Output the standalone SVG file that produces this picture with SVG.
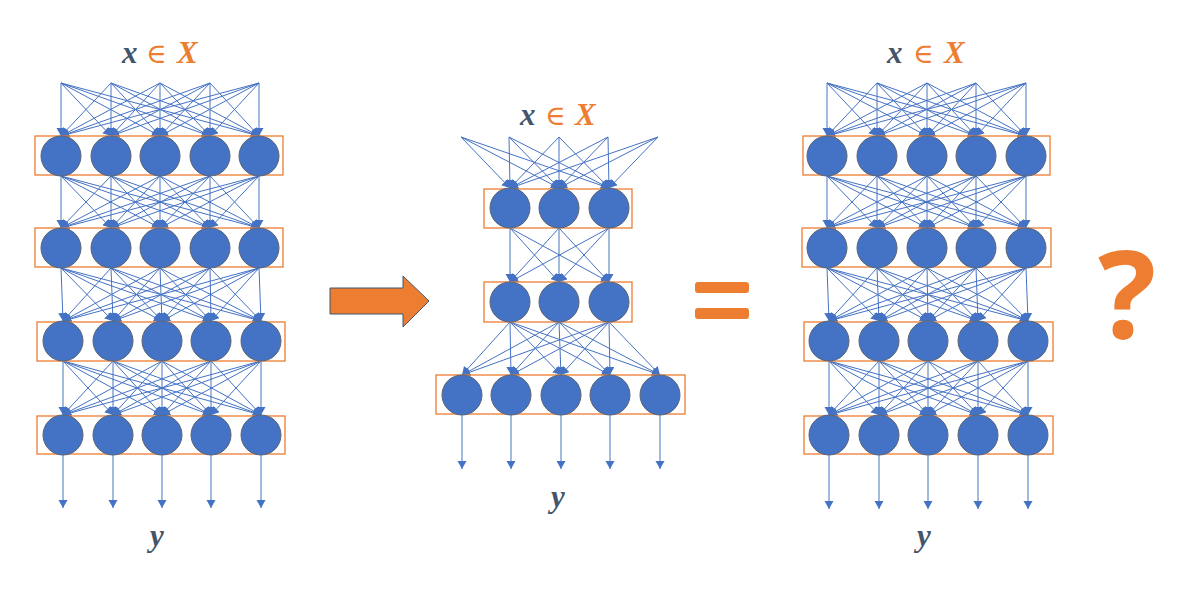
<svg xmlns="http://www.w3.org/2000/svg" width="1202" height="590" viewBox="0 0 1202 590">
<style>
.c{stroke:#4472C4;stroke-width:1;fill:none;marker-end:url(#ah)}
.n{fill:#4472C4;stroke:#5B6675;stroke-width:1}
.L{fill:none;stroke:#ED7D31;stroke-width:1.3}
.lx{font-family:"Liberation Serif","DejaVu Serif",serif;font-size:31px;font-weight:bold;font-style:italic;fill:#44546A}
.lo{fill:#ED7D31}
.le{font-weight:normal;font-style:normal;font-family:"DejaVu Serif","Liberation Serif",serif;font-size:28px}
</style>
<defs>
<marker id="ah" markerUnits="userSpaceOnUse" markerWidth="10" markerHeight="10" refX="8" refY="4.5" orient="auto"><path d="M0,0 L8,4.5 L0,9 z" fill="#4472C4"/></marker>
</defs>
<rect width="1202" height="590" fill="#ffffff"/>

<g id="connectors">
<!-- left: input to L1 -->
<line class="c" x1="61" y1="83" x2="61" y2="136"/><line class="c" x1="61" y1="83" x2="111" y2="136"/><line class="c" x1="61" y1="83" x2="160" y2="136"/><line class="c" x1="61" y1="83" x2="210" y2="136"/><line class="c" x1="61" y1="83" x2="259" y2="136"/>
<line class="c" x1="111" y1="83" x2="61" y2="136"/><line class="c" x1="111" y1="83" x2="111" y2="136"/><line class="c" x1="111" y1="83" x2="160" y2="136"/><line class="c" x1="111" y1="83" x2="210" y2="136"/><line class="c" x1="111" y1="83" x2="259" y2="136"/>
<line class="c" x1="160" y1="83" x2="61" y2="136"/><line class="c" x1="160" y1="83" x2="111" y2="136"/><line class="c" x1="160" y1="83" x2="160" y2="136"/><line class="c" x1="160" y1="83" x2="210" y2="136"/><line class="c" x1="160" y1="83" x2="259" y2="136"/>
<line class="c" x1="210" y1="83" x2="61" y2="136"/><line class="c" x1="210" y1="83" x2="111" y2="136"/><line class="c" x1="210" y1="83" x2="160" y2="136"/><line class="c" x1="210" y1="83" x2="210" y2="136"/><line class="c" x1="210" y1="83" x2="259" y2="136"/>
<line class="c" x1="259" y1="83" x2="61" y2="136"/><line class="c" x1="259" y1="83" x2="111" y2="136"/><line class="c" x1="259" y1="83" x2="160" y2="136"/><line class="c" x1="259" y1="83" x2="210" y2="136"/><line class="c" x1="259" y1="83" x2="259" y2="136"/>
<!-- left: L1 to L2 -->
<line class="c" x1="61" y1="176" x2="61" y2="228"/><line class="c" x1="61" y1="176" x2="111" y2="228"/><line class="c" x1="61" y1="176" x2="160" y2="228"/><line class="c" x1="61" y1="176" x2="210" y2="228"/><line class="c" x1="61" y1="176" x2="259" y2="228"/>
<line class="c" x1="111" y1="176" x2="61" y2="228"/><line class="c" x1="111" y1="176" x2="111" y2="228"/><line class="c" x1="111" y1="176" x2="160" y2="228"/><line class="c" x1="111" y1="176" x2="210" y2="228"/><line class="c" x1="111" y1="176" x2="259" y2="228"/>
<line class="c" x1="160" y1="176" x2="61" y2="228"/><line class="c" x1="160" y1="176" x2="111" y2="228"/><line class="c" x1="160" y1="176" x2="160" y2="228"/><line class="c" x1="160" y1="176" x2="210" y2="228"/><line class="c" x1="160" y1="176" x2="259" y2="228"/>
<line class="c" x1="210" y1="176" x2="61" y2="228"/><line class="c" x1="210" y1="176" x2="111" y2="228"/><line class="c" x1="210" y1="176" x2="160" y2="228"/><line class="c" x1="210" y1="176" x2="210" y2="228"/><line class="c" x1="210" y1="176" x2="259" y2="228"/>
<line class="c" x1="259" y1="176" x2="61" y2="228"/><line class="c" x1="259" y1="176" x2="111" y2="228"/><line class="c" x1="259" y1="176" x2="160" y2="228"/><line class="c" x1="259" y1="176" x2="210" y2="228"/><line class="c" x1="259" y1="176" x2="259" y2="228"/>
<!-- left: L2 to L3 -->
<line class="c" x1="61" y1="268" x2="63" y2="321"/><line class="c" x1="61" y1="268" x2="113" y2="321"/><line class="c" x1="61" y1="268" x2="162" y2="321"/><line class="c" x1="61" y1="268" x2="211" y2="321"/><line class="c" x1="61" y1="268" x2="261" y2="321"/>
<line class="c" x1="111" y1="268" x2="63" y2="321"/><line class="c" x1="111" y1="268" x2="113" y2="321"/><line class="c" x1="111" y1="268" x2="162" y2="321"/><line class="c" x1="111" y1="268" x2="211" y2="321"/><line class="c" x1="111" y1="268" x2="261" y2="321"/>
<line class="c" x1="160" y1="268" x2="63" y2="321"/><line class="c" x1="160" y1="268" x2="113" y2="321"/><line class="c" x1="160" y1="268" x2="162" y2="321"/><line class="c" x1="160" y1="268" x2="211" y2="321"/><line class="c" x1="160" y1="268" x2="261" y2="321"/>
<line class="c" x1="210" y1="268" x2="63" y2="321"/><line class="c" x1="210" y1="268" x2="113" y2="321"/><line class="c" x1="210" y1="268" x2="162" y2="321"/><line class="c" x1="210" y1="268" x2="211" y2="321"/><line class="c" x1="210" y1="268" x2="261" y2="321"/>
<line class="c" x1="259" y1="268" x2="63" y2="321"/><line class="c" x1="259" y1="268" x2="113" y2="321"/><line class="c" x1="259" y1="268" x2="162" y2="321"/><line class="c" x1="259" y1="268" x2="211" y2="321"/><line class="c" x1="259" y1="268" x2="261" y2="321"/>
<!-- left: L3 to L4 -->
<line class="c" x1="63" y1="361" x2="63" y2="415"/><line class="c" x1="63" y1="361" x2="113" y2="415"/><line class="c" x1="63" y1="361" x2="162" y2="415"/><line class="c" x1="63" y1="361" x2="211" y2="415"/><line class="c" x1="63" y1="361" x2="261" y2="415"/>
<line class="c" x1="113" y1="361" x2="63" y2="415"/><line class="c" x1="113" y1="361" x2="113" y2="415"/><line class="c" x1="113" y1="361" x2="162" y2="415"/><line class="c" x1="113" y1="361" x2="211" y2="415"/><line class="c" x1="113" y1="361" x2="261" y2="415"/>
<line class="c" x1="162" y1="361" x2="63" y2="415"/><line class="c" x1="162" y1="361" x2="113" y2="415"/><line class="c" x1="162" y1="361" x2="162" y2="415"/><line class="c" x1="162" y1="361" x2="211" y2="415"/><line class="c" x1="162" y1="361" x2="261" y2="415"/>
<line class="c" x1="211" y1="361" x2="63" y2="415"/><line class="c" x1="211" y1="361" x2="113" y2="415"/><line class="c" x1="211" y1="361" x2="162" y2="415"/><line class="c" x1="211" y1="361" x2="211" y2="415"/><line class="c" x1="211" y1="361" x2="261" y2="415"/>
<line class="c" x1="261" y1="361" x2="63" y2="415"/><line class="c" x1="261" y1="361" x2="113" y2="415"/><line class="c" x1="261" y1="361" x2="162" y2="415"/><line class="c" x1="261" y1="361" x2="211" y2="415"/><line class="c" x1="261" y1="361" x2="261" y2="415"/>
<!-- left outputs -->
<line class="c" x1="63" y1="455" x2="63" y2="508"/><line class="c" x1="113" y1="455" x2="113" y2="508"/><line class="c" x1="162" y1="455" x2="162" y2="508"/><line class="c" x1="211" y1="455" x2="211" y2="508"/><line class="c" x1="261" y1="455" x2="261" y2="508"/>

<!-- middle: input to L1 -->
<line class="c" x1="461" y1="137" x2="510" y2="188"/><line class="c" x1="461" y1="137" x2="559" y2="188"/><line class="c" x1="461" y1="137" x2="609" y2="188"/>
<line class="c" x1="509" y1="137" x2="510" y2="188"/><line class="c" x1="509" y1="137" x2="559" y2="188"/><line class="c" x1="509" y1="137" x2="609" y2="188"/>
<line class="c" x1="559" y1="137" x2="510" y2="188"/><line class="c" x1="559" y1="137" x2="559" y2="188"/><line class="c" x1="559" y1="137" x2="609" y2="188"/>
<line class="c" x1="608" y1="137" x2="510" y2="188"/><line class="c" x1="608" y1="137" x2="559" y2="188"/><line class="c" x1="608" y1="137" x2="609" y2="188"/>
<line class="c" x1="658" y1="137" x2="510" y2="188"/><line class="c" x1="658" y1="137" x2="559" y2="188"/><line class="c" x1="658" y1="137" x2="609" y2="188"/>
<!-- middle: L1 to L2 -->
<line class="c" x1="510" y1="228" x2="510" y2="282"/><line class="c" x1="510" y1="228" x2="559" y2="282"/><line class="c" x1="510" y1="228" x2="609" y2="282"/>
<line class="c" x1="559" y1="228" x2="510" y2="282"/><line class="c" x1="559" y1="228" x2="559" y2="282"/><line class="c" x1="559" y1="228" x2="609" y2="282"/>
<line class="c" x1="609" y1="228" x2="510" y2="282"/><line class="c" x1="609" y1="228" x2="559" y2="282"/><line class="c" x1="609" y1="228" x2="609" y2="282"/>
<!-- middle: L2 to L3 -->
<line class="c" x1="510" y1="322" x2="462" y2="375"/><line class="c" x1="510" y1="322" x2="511" y2="375"/><line class="c" x1="510" y1="322" x2="561" y2="375"/><line class="c" x1="510" y1="322" x2="610" y2="375"/><line class="c" x1="510" y1="322" x2="660" y2="375"/>
<line class="c" x1="559" y1="322" x2="462" y2="375"/><line class="c" x1="559" y1="322" x2="511" y2="375"/><line class="c" x1="559" y1="322" x2="561" y2="375"/><line class="c" x1="559" y1="322" x2="610" y2="375"/><line class="c" x1="559" y1="322" x2="660" y2="375"/>
<line class="c" x1="609" y1="322" x2="462" y2="375"/><line class="c" x1="609" y1="322" x2="511" y2="375"/><line class="c" x1="609" y1="322" x2="561" y2="375"/><line class="c" x1="609" y1="322" x2="610" y2="375"/><line class="c" x1="609" y1="322" x2="660" y2="375"/>
<!-- middle outputs -->
<line class="c" x1="462" y1="415" x2="462" y2="469"/><line class="c" x1="511" y1="415" x2="511" y2="469"/><line class="c" x1="561" y1="415" x2="561" y2="469"/><line class="c" x1="610" y1="415" x2="610" y2="469"/><line class="c" x1="660" y1="415" x2="660" y2="469"/>

<!-- right: input to L1 -->
<line class="c" x1="827" y1="83" x2="827" y2="136"/><line class="c" x1="827" y1="83" x2="877" y2="136"/><line class="c" x1="827" y1="83" x2="927" y2="136"/><line class="c" x1="827" y1="83" x2="976" y2="136"/><line class="c" x1="827" y1="83" x2="1026" y2="136"/>
<line class="c" x1="877" y1="83" x2="827" y2="136"/><line class="c" x1="877" y1="83" x2="877" y2="136"/><line class="c" x1="877" y1="83" x2="927" y2="136"/><line class="c" x1="877" y1="83" x2="976" y2="136"/><line class="c" x1="877" y1="83" x2="1026" y2="136"/>
<line class="c" x1="927" y1="83" x2="827" y2="136"/><line class="c" x1="927" y1="83" x2="877" y2="136"/><line class="c" x1="927" y1="83" x2="927" y2="136"/><line class="c" x1="927" y1="83" x2="976" y2="136"/><line class="c" x1="927" y1="83" x2="1026" y2="136"/>
<line class="c" x1="976" y1="83" x2="827" y2="136"/><line class="c" x1="976" y1="83" x2="877" y2="136"/><line class="c" x1="976" y1="83" x2="927" y2="136"/><line class="c" x1="976" y1="83" x2="976" y2="136"/><line class="c" x1="976" y1="83" x2="1026" y2="136"/>
<line class="c" x1="1026" y1="83" x2="827" y2="136"/><line class="c" x1="1026" y1="83" x2="877" y2="136"/><line class="c" x1="1026" y1="83" x2="927" y2="136"/><line class="c" x1="1026" y1="83" x2="976" y2="136"/><line class="c" x1="1026" y1="83" x2="1026" y2="136"/>
<!-- right: L1 to L2 -->
<line class="c" x1="827" y1="176" x2="827" y2="228"/><line class="c" x1="827" y1="176" x2="877" y2="228"/><line class="c" x1="827" y1="176" x2="927" y2="228"/><line class="c" x1="827" y1="176" x2="976" y2="228"/><line class="c" x1="827" y1="176" x2="1026" y2="228"/>
<line class="c" x1="877" y1="176" x2="827" y2="228"/><line class="c" x1="877" y1="176" x2="877" y2="228"/><line class="c" x1="877" y1="176" x2="927" y2="228"/><line class="c" x1="877" y1="176" x2="976" y2="228"/><line class="c" x1="877" y1="176" x2="1026" y2="228"/>
<line class="c" x1="927" y1="176" x2="827" y2="228"/><line class="c" x1="927" y1="176" x2="877" y2="228"/><line class="c" x1="927" y1="176" x2="927" y2="228"/><line class="c" x1="927" y1="176" x2="976" y2="228"/><line class="c" x1="927" y1="176" x2="1026" y2="228"/>
<line class="c" x1="976" y1="176" x2="827" y2="228"/><line class="c" x1="976" y1="176" x2="877" y2="228"/><line class="c" x1="976" y1="176" x2="927" y2="228"/><line class="c" x1="976" y1="176" x2="976" y2="228"/><line class="c" x1="976" y1="176" x2="1026" y2="228"/>
<line class="c" x1="1026" y1="176" x2="827" y2="228"/><line class="c" x1="1026" y1="176" x2="877" y2="228"/><line class="c" x1="1026" y1="176" x2="927" y2="228"/><line class="c" x1="1026" y1="176" x2="976" y2="228"/><line class="c" x1="1026" y1="176" x2="1026" y2="228"/>
<!-- right: L2 to L3 -->
<line class="c" x1="827" y1="268" x2="829" y2="321"/><line class="c" x1="827" y1="268" x2="879" y2="321"/><line class="c" x1="827" y1="268" x2="928" y2="321"/><line class="c" x1="827" y1="268" x2="978" y2="321"/><line class="c" x1="827" y1="268" x2="1028" y2="321"/>
<line class="c" x1="877" y1="268" x2="829" y2="321"/><line class="c" x1="877" y1="268" x2="879" y2="321"/><line class="c" x1="877" y1="268" x2="928" y2="321"/><line class="c" x1="877" y1="268" x2="978" y2="321"/><line class="c" x1="877" y1="268" x2="1028" y2="321"/>
<line class="c" x1="927" y1="268" x2="829" y2="321"/><line class="c" x1="927" y1="268" x2="879" y2="321"/><line class="c" x1="927" y1="268" x2="928" y2="321"/><line class="c" x1="927" y1="268" x2="978" y2="321"/><line class="c" x1="927" y1="268" x2="1028" y2="321"/>
<line class="c" x1="976" y1="268" x2="829" y2="321"/><line class="c" x1="976" y1="268" x2="879" y2="321"/><line class="c" x1="976" y1="268" x2="928" y2="321"/><line class="c" x1="976" y1="268" x2="978" y2="321"/><line class="c" x1="976" y1="268" x2="1028" y2="321"/>
<line class="c" x1="1026" y1="268" x2="829" y2="321"/><line class="c" x1="1026" y1="268" x2="879" y2="321"/><line class="c" x1="1026" y1="268" x2="928" y2="321"/><line class="c" x1="1026" y1="268" x2="978" y2="321"/><line class="c" x1="1026" y1="268" x2="1028" y2="321"/>
<!-- right: L3 to L4 -->
<line class="c" x1="829" y1="361" x2="829" y2="415"/><line class="c" x1="829" y1="361" x2="879" y2="415"/><line class="c" x1="829" y1="361" x2="928" y2="415"/><line class="c" x1="829" y1="361" x2="978" y2="415"/><line class="c" x1="829" y1="361" x2="1028" y2="415"/>
<line class="c" x1="879" y1="361" x2="829" y2="415"/><line class="c" x1="879" y1="361" x2="879" y2="415"/><line class="c" x1="879" y1="361" x2="928" y2="415"/><line class="c" x1="879" y1="361" x2="978" y2="415"/><line class="c" x1="879" y1="361" x2="1028" y2="415"/>
<line class="c" x1="928" y1="361" x2="829" y2="415"/><line class="c" x1="928" y1="361" x2="879" y2="415"/><line class="c" x1="928" y1="361" x2="928" y2="415"/><line class="c" x1="928" y1="361" x2="978" y2="415"/><line class="c" x1="928" y1="361" x2="1028" y2="415"/>
<line class="c" x1="978" y1="361" x2="829" y2="415"/><line class="c" x1="978" y1="361" x2="879" y2="415"/><line class="c" x1="978" y1="361" x2="928" y2="415"/><line class="c" x1="978" y1="361" x2="978" y2="415"/><line class="c" x1="978" y1="361" x2="1028" y2="415"/>
<line class="c" x1="1028" y1="361" x2="829" y2="415"/><line class="c" x1="1028" y1="361" x2="879" y2="415"/><line class="c" x1="1028" y1="361" x2="928" y2="415"/><line class="c" x1="1028" y1="361" x2="978" y2="415"/><line class="c" x1="1028" y1="361" x2="1028" y2="415"/>
<!-- right outputs -->
<line class="c" x1="829" y1="455" x2="829" y2="509"/><line class="c" x1="879" y1="455" x2="879" y2="509"/><line class="c" x1="928" y1="455" x2="928" y2="509"/><line class="c" x1="978" y1="455" x2="978" y2="509"/><line class="c" x1="1028" y1="455" x2="1028" y2="509"/>
</g>

<!-- Left network -->
<g id="left-l1"><rect class="L" x="35" y="136" width="248" height="39"/>
<g id="left-l1-n1"><circle class="n" cx="61" cy="156" r="20"/></g><g id="left-l1-n2"><circle class="n" cx="111" cy="156" r="20"/></g><g id="left-l1-n3"><circle class="n" cx="160" cy="156" r="20"/></g><g id="left-l1-n4"><circle class="n" cx="210" cy="156" r="20"/></g><g id="left-l1-n5"><circle class="n" cx="259" cy="156" r="20"/></g></g>
<g id="left-l2"><rect class="L" x="35" y="228" width="248" height="39"/>
<g id="left-l2-n1"><circle class="n" cx="61" cy="248" r="20"/></g><g id="left-l2-n2"><circle class="n" cx="111" cy="248" r="20"/></g><g id="left-l2-n3"><circle class="n" cx="160" cy="248" r="20"/></g><g id="left-l2-n4"><circle class="n" cx="210" cy="248" r="20"/></g><g id="left-l2-n5"><circle class="n" cx="259" cy="248" r="20"/></g></g>
<g id="left-l3"><rect class="L" x="37" y="322" width="248" height="39"/>
<g id="left-l3-n1"><circle class="n" cx="63" cy="341" r="20"/></g><g id="left-l3-n2"><circle class="n" cx="113" cy="341" r="20"/></g><g id="left-l3-n3"><circle class="n" cx="162" cy="341" r="20"/></g><g id="left-l3-n4"><circle class="n" cx="211" cy="341" r="20"/></g><g id="left-l3-n5"><circle class="n" cx="261" cy="341" r="20"/></g></g>
<g id="left-l4"><rect class="L" x="37" y="416" width="248" height="38"/>
<g id="left-l4-n1"><circle class="n" cx="63" cy="435" r="20"/></g><g id="left-l4-n2"><circle class="n" cx="113" cy="435" r="20"/></g><g id="left-l4-n3"><circle class="n" cx="162" cy="435" r="20"/></g><g id="left-l4-n4"><circle class="n" cx="211" cy="435" r="20"/></g><g id="left-l4-n5"><circle class="n" cx="261" cy="435" r="20"/></g></g>
<g id="left-label-x"><text class="lx"><tspan x="122" y="63">x</tspan><tspan class="lo le" x="146" y="63">∈</tspan><tspan class="lo" x="177" y="63">X</tspan></text></g>
<g id="left-label-y"><text class="lx" x="150" y="546">y</text></g>

<!-- Middle network -->
<g id="mid-l1"><rect class="L" x="484" y="189" width="148" height="39"/>
<g id="mid-l1-n1"><circle class="n" cx="510" cy="208" r="20"/></g><g id="mid-l1-n2"><circle class="n" cx="559" cy="208" r="20"/></g><g id="mid-l1-n3"><circle class="n" cx="609" cy="208" r="20"/></g></g>
<g id="mid-l2"><rect class="L" x="484" y="282" width="148" height="40"/>
<g id="mid-l2-n1"><circle class="n" cx="510" cy="302" r="20"/></g><g id="mid-l2-n2"><circle class="n" cx="559" cy="302" r="20"/></g><g id="mid-l2-n3"><circle class="n" cx="609" cy="302" r="20"/></g></g>
<g id="mid-l3"><rect class="L" x="436" y="375" width="249" height="39"/>
<g id="mid-l3-n1"><circle class="n" cx="462" cy="395" r="20"/></g><g id="mid-l3-n2"><circle class="n" cx="511" cy="395" r="20"/></g><g id="mid-l3-n3"><circle class="n" cx="561" cy="395" r="20"/></g><g id="mid-l3-n4"><circle class="n" cx="610" cy="395" r="20"/></g><g id="mid-l3-n5"><circle class="n" cx="660" cy="395" r="20"/></g></g>
<g id="mid-label-x"><text class="lx"><tspan x="520" y="125">x</tspan><tspan class="lo le" x="545" y="125">∈</tspan><tspan class="lo" x="575" y="125">X</tspan></text></g>
<g id="mid-label-y"><text class="lx" x="551" y="507">y</text></g>

<!-- Right network -->
<g id="right-l1"><rect class="L" x="803" y="136" width="247" height="39"/>
<g id="right-l1-n1"><circle class="n" cx="827" cy="156" r="20"/></g><g id="right-l1-n2"><circle class="n" cx="877" cy="156" r="20"/></g><g id="right-l1-n3"><circle class="n" cx="927" cy="156" r="20"/></g><g id="right-l1-n4"><circle class="n" cx="976" cy="156" r="20"/></g><g id="right-l1-n5"><circle class="n" cx="1026" cy="156" r="20"/></g></g>
<g id="right-l2"><rect class="L" x="802" y="228" width="249" height="39"/>
<g id="right-l2-n1"><circle class="n" cx="827" cy="248" r="20"/></g><g id="right-l2-n2"><circle class="n" cx="877" cy="248" r="20"/></g><g id="right-l2-n3"><circle class="n" cx="927" cy="248" r="20"/></g><g id="right-l2-n4"><circle class="n" cx="976" cy="248" r="20"/></g><g id="right-l2-n5"><circle class="n" cx="1026" cy="248" r="20"/></g></g>
<g id="right-l3"><rect class="L" x="804" y="322" width="249" height="39"/>
<g id="right-l3-n1"><circle class="n" cx="829" cy="341" r="20"/></g><g id="right-l3-n2"><circle class="n" cx="879" cy="341" r="20"/></g><g id="right-l3-n3"><circle class="n" cx="928" cy="341" r="20"/></g><g id="right-l3-n4"><circle class="n" cx="978" cy="341" r="20"/></g><g id="right-l3-n5"><circle class="n" cx="1028" cy="341" r="20"/></g></g>
<g id="right-l4"><rect class="L" x="804" y="416" width="249" height="38"/>
<g id="right-l4-n1"><circle class="n" cx="829" cy="435" r="20"/></g><g id="right-l4-n2"><circle class="n" cx="879" cy="435" r="20"/></g><g id="right-l4-n3"><circle class="n" cx="928" cy="435" r="20"/></g><g id="right-l4-n4"><circle class="n" cx="978" cy="435" r="20"/></g><g id="right-l4-n5"><circle class="n" cx="1028" cy="435" r="20"/></g></g>
<g id="right-label-x"><text class="lx"><tspan x="887" y="63">x</tspan><tspan class="lo le" x="913" y="63">∈</tspan><tspan class="lo" x="944" y="63">X</tspan></text></g>
<g id="right-label-y"><text class="lx" x="917" y="546">y</text></g>

<!-- Symbols -->
<g id="big-arrow"><polygon points="330,288 403,288 403,276 429,301 403,327 403,314 330,314" fill="#ED7D31" stroke="#41566E" stroke-width="1"/></g>
<g id="equals"><rect x="695" y="282" width="54" height="11" rx="3" fill="#ED7D31"/><rect x="695" y="308" width="54" height="11" rx="3" fill="#ED7D31"/></g>
<g id="question"><text x="1127" y="338" text-anchor="middle" font-family="'Open Sans','DejaVu Sans',sans-serif" font-weight="bold" font-size="122" fill="#ED7D31">?</text></g>
</svg>
